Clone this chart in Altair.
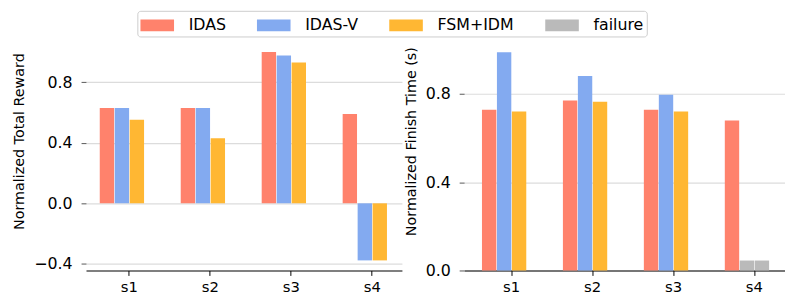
import altair as alt
import pandas as pd

# ---- data ----
scenarios = ["s1", "s2", "s3", "s4"]
methods = ["IDAS", "IDAS-V", "FSM+IDM", "failure"]
slots = ["IDAS", "IDAS-V", "FSM+IDM", "empty"]
colors = ["#ff826c", "#83aaf0", "#ffb733", "#bababa"]

reward_idas = [0.63, 0.63, 1.00, 0.59]
reward_idasv = [0.63, 0.63, 0.976, -0.377]
reward_fsm = [0.553, 0.43, 0.93, -0.377]

time_idas = [0.728, 0.769, 0.728, 0.679]
time_idasv = [0.988, 0.88, 0.796, None]
time_fsm = [0.72, 0.764, 0.72, None]
failure_value = 0.045  # height of the grey "failure" bars

reward_ticks = [-0.4, 0.0, 0.4, 0.8]
time_ticks = [0.0, 0.4, 0.8]


def rows(values_by_method, fail_val=None):
    out = []
    for m, vals in values_by_method.items():
        for s, v in zip(scenarios, vals):
            if v is None:
                out.append({"scenario": s, "slot": m, "method": "failure", "value": fail_val})
            else:
                out.append({"scenario": s, "slot": m, "method": m, "value": v})
    return pd.DataFrame(out)


reward_df = rows({"IDAS": reward_idas, "IDAS-V": reward_idasv, "FSM+IDM": reward_fsm})
time_df = rows({"IDAS": time_idas, "IDAS-V": time_idasv, "FSM+IDM": time_fsm}, failure_value)

FONT = "DejaVu Sans"

color_enc = alt.Color(
    "method:N",
    scale=alt.Scale(domain=methods, range=colors),
    legend=alt.Legend(
        title=None,
        orient="none",
        direction="horizontal",
        columns=4,
        legendX=52,
        legendY=-1,
        symbolType="M-1,-0.53H2V0.53H-1Z",
        symbolSize=514,
        symbolStrokeWidth=0,
        symbolOpacity=1,
        labelFontSize=16,
        labelFont=FONT,
        labelColor="#000000",
        labelOffset=26,
        columnPadding=31,
        padding=3,
        strokeColor="#cccccc",
        fillColor="#ffffff",
        cornerRadius=3,
    ),
)


def panel(df, title, domain, ticks, width, pad_outer, align):
    return (
        alt.Chart(df)
        .mark_bar(opacity=1)
        .encode(
            x=alt.X(
                "scenario:N",
                sort=scenarios,
                scale=alt.Scale(paddingInner=0.268, paddingOuter=pad_outer, align=align),
                axis=alt.Axis(
                    title=None,
                    labelAngle=0,
                    labelFontSize=15,
                    labelFont=FONT,
                    labelColor="#000000",
                    domainColor="#000000",
                    domainWidth=1.2,
                    tickColor="#000000",
                    tickSize=5,
                    labelPadding=4,
                    grid=False,
                ),
            ),
            xOffset=alt.XOffset("slot:N", scale=alt.Scale(domain=slots, paddingInner=0.04)),
            y=alt.Y(
                "value:Q",
                scale=alt.Scale(domain=domain, nice=False, zero=False),
                axis=alt.Axis(
                    title=title,
                    values=ticks,
                    format=".1f",
                    labelFontSize=16,
                    labelFont=FONT,
                    labelColor="#000000",
                    titleFontSize=14.5,
                    titleFont=FONT,
                    titleFontWeight="normal",
                    titleColor="#000000",
                    titlePadding=7,
                    domain=False,
                    tickColor="#555555",
                    tickSize=5,
                    labelPadding=9,
                    grid=True,
                    gridColor="#dcdcdc",
                    gridWidth=1.2,
                ),
            ),
            color=color_enc,
        )
        .properties(width=width, height=262)
    )


left = panel(reward_df, "Normalized Total Reward", [-0.4436, 1.2655], reward_ticks, 320, 0.085, 1.0)
right = panel(time_df, "Normalized Finish Time (s)", [0.0, 1.171], time_ticks, 325, 0.116, 0.95)

chart = (
    alt.hconcat(left, right, spacing=1)
    .properties(padding={"left": 4, "top": 0, "right": 0, "bottom": 0})
    .configure_view(stroke=None)
)

chart.save("out.html", embed_options={"renderer": "svg", "actions": False})
